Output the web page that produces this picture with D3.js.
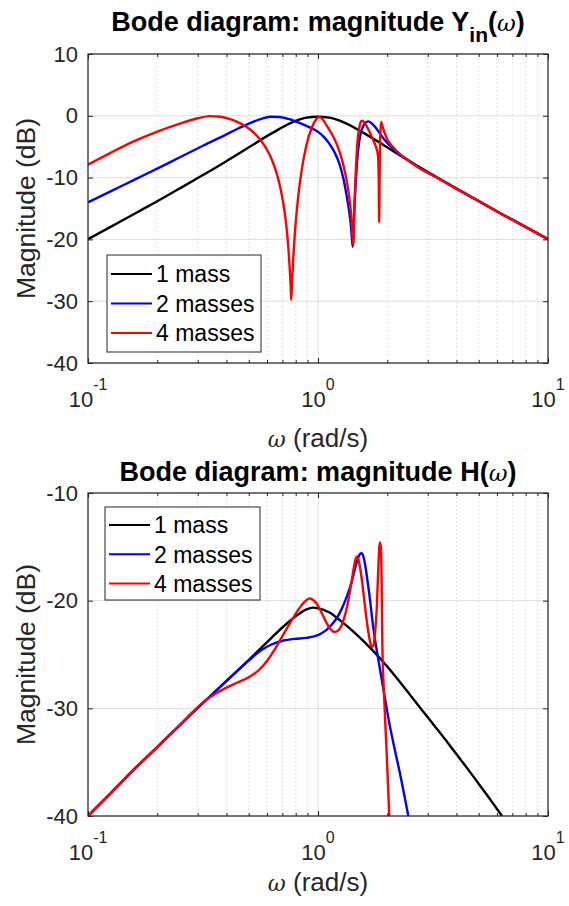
<!DOCTYPE html>
<html><head><meta charset="utf-8">
<script src="https://cdn.jsdelivr.net/npm/d3@7"></script>
<style>
body{margin:0;background:#fff}
svg{display:block}
text{font-family:"Liberation Sans",Arial,Helvetica,sans-serif}
</style>
</head><body>
<svg id="c" width="569" height="906"></svg>
<script>
// ---------- data ----------
const seriesNames = ["1 mass", "2 masses", "4 masses"];
const xTickValues = [0.1, 1, 10];
const xTickExponents = ["-1", "0", "1"];
const yinTicks = [-40, -30, -20, -10, 0, 10];
const hTicks = [-40, -30, -20, -10];

// Top panel: magnitude Y_in (dB)
const yinW1 = [0.1,0.126,0.158,0.2,0.251,0.316,0.398,0.501,0.631,0.794,0.891,1.0,1.122,1.259,1.585,1.995,2.512,3.162,3.981,5.012,6.31,7.943,10];
const yinDb1 = [-19.96,-17.93,-15.92,-13.83,-11.74,-9.59,-7.38,-5.09,-2.81,-0.85,-0.3,-0.15,-0.3,-0.85,-2.81,-5.09,-7.38,-9.59,-11.74,-13.83,-15.92,-17.93,-19.96];

const yinW2 = [0.1,0.126,0.158,0.2,0.251,0.316,0.398,0.447,0.501,0.562,0.62,0.68,0.75,0.83,0.91,1.0,1.06,1.12,1.18,1.24,1.29,1.33,1.37,1.395,1.415,1.435,1.455,1.475,1.5,1.53,1.57,1.61,1.655,1.71,1.78,1.86,1.95,2.05,2.2,2.5,2.8,3.162,3.981,5.012,6.31,7.943,10];
const yinDb2 = [-14.0,-12.2,-10.4,-8.55,-6.7,-4.85,-3.05,-2.1,-1.25,-0.55,-0.15,-0.2,-0.55,-1.15,-1.8,-2.6,-3.4,-4.5,-5.9,-7.8,-10.2,-12.8,-15.8,-18.3,-21.2,-16.0,-11.5,-8.0,-5.0,-3.0,-1.7,-1.1,-0.9,-1.2,-1.9,-2.9,-3.9,-4.8,-5.9,-7.3,-8.6,-9.65,-11.75,-13.83,-15.92,-17.93,-19.96];

const yinW4 = [0.1,0.126,0.158,0.2,0.251,0.3,0.338,0.375,0.415,0.45,0.48,0.51,0.54,0.57,0.6,0.63,0.66,0.69,0.715,0.735,0.75,0.76,0.765,0.772,0.785,0.8,0.82,0.85,0.89,0.94,0.98,1.01,1.05,1.1,1.166,1.23,1.288,1.34,1.378,1.405,1.424,1.44,1.46,1.485,1.51,1.53,1.549,1.575,1.61,1.66,1.71,1.76,1.8,1.825,1.836,1.845,1.853,1.862,1.879,1.91,1.95,2.0,2.1,2.2,2.5,2.8,3.162,3.981,5.012,6.31,7.943,10];
const yinDb4 = [-7.9,-5.95,-4.15,-2.55,-1.25,-0.4,-0.05,-0.15,-0.55,-1.05,-1.6,-2.3,-3.15,-4.2,-5.5,-7.1,-9.2,-12.1,-15.4,-19.2,-23.5,-27.3,-29.8,-26.5,-21.5,-17.3,-13.1,-8.7,-4.8,-1.9,-0.6,-0.2,-0.6,-1.8,-3.4,-5.4,-7.9,-11.0,-14.2,-17.5,-20.9,-14.8,-8.8,-4.2,-2.0,-1.1,-0.8,-0.9,-1.4,-2.3,-3.3,-4.4,-5.4,-6.6,-9.5,-17.2,-10.0,-4.0,-1.0,-1.8,-2.8,-3.8,-4.9,-5.7,-7.4,-8.6,-9.65,-11.75,-13.83,-15.92,-17.93,-19.96];

// Bottom panel: magnitude H (dB)
const hW1 = [0.1,0.126,0.158,0.2,0.251,0.316,0.355,0.398,0.447,0.501,0.562,0.631,0.708,0.794,0.891,0.95,1.0,1.122,1.259,1.413,1.585,1.778,1.995,2.239,2.512,2.818,3.162,3.548,3.981,4.467,5.012,5.623,6.31];
const hDb1 = [-40.0,-37.85,-35.7,-33.6,-31.55,-29.5,-28.5,-27.5,-26.5,-25.5,-24.45,-23.4,-22.4,-21.5,-20.8,-20.65,-20.7,-21.1,-21.9,-22.8,-23.8,-24.9,-26.1,-27.4,-28.75,-30.1,-31.45,-32.8,-34.2,-35.6,-37.05,-38.5,-40.0];

const hW2 = [0.1,0.126,0.158,0.2,0.251,0.316,0.355,0.398,0.447,0.501,0.562,0.631,0.708,0.794,0.891,1.0,1.06,1.122,1.19,1.259,1.33,1.4,1.45,1.497,1.525,1.549,1.575,1.601,1.64,1.683,1.72,1.769,1.83,1.892,1.97,2.056,2.16,2.27,2.37,2.47];
const hDb2 = [-40.0,-37.85,-35.7,-33.6,-31.55,-29.5,-28.5,-27.5,-26.5,-25.55,-24.65,-24.05,-23.7,-23.55,-23.45,-23.2,-22.9,-22.45,-21.8,-20.9,-19.7,-18.3,-17.0,-16.0,-15.65,-15.6,-15.9,-16.6,-18.1,-19.9,-21.7,-23.6,-25.5,-27.3,-29.5,-31.7,-33.9,-36.0,-38.0,-40.0];

const hW4 = [0.1,0.126,0.158,0.2,0.251,0.282,0.316,0.355,0.398,0.447,0.501,0.55,0.6,0.65,0.7,0.75,0.8,0.85,0.92,0.98,1.03,1.08,1.13,1.18,1.22,1.26,1.3,1.34,1.38,1.42,1.45,1.483,1.51,1.55,1.59,1.63,1.67,1.711,1.74,1.77,1.8,1.825,1.848,1.865,1.879,1.89,1.904,1.94,1.989,2.042];
const hDb4 = [-40.0,-37.85,-35.7,-33.6,-31.55,-30.45,-29.45,-28.7,-28.1,-27.6,-27.1,-26.5,-25.6,-24.5,-23.3,-22.2,-21.2,-20.4,-19.8,-20.2,-21.0,-21.9,-22.6,-22.9,-22.8,-22.4,-21.6,-20.5,-19.0,-17.4,-16.3,-15.9,-16.5,-18.0,-20.0,-21.9,-23.4,-24.3,-24.2,-23.0,-20.8,-17.5,-15.0,-14.6,-15.2,-18.0,-24.0,-29.0,-34.2,-40.0];

// ---------- styles ----------
const colors = ["#000000", "#0000ff", "#ff0000"];
const svg = d3.select("#c");
const axisColor = "#262626";

function drawPanel(p) {
  const x = d3.scaleLog().domain([0.1, 10]).range([p.left, p.right]);
  const y = d3.scaleLinear().domain(p.yDomain).range([p.bottom, p.top]);
  const g = svg.append("g");
  const clipId = "clip" + p.id;
  svg.append("clipPath").attr("id", clipId).append("rect")
    .attr("x", p.left).attr("y", p.top)
    .attr("width", p.right - p.left).attr("height", p.bottom - p.top);

  const allTicks = x.ticks();
  const isMajor = t => Math.abs(Math.log10(t) - Math.round(Math.log10(t))) < 1e-9;
  const minor = allTicks.filter(t => !isMajor(t));

  // minor grid
  g.append("g").selectAll("line").data(minor).join("line")
    .attr("x1", d => x(d)).attr("x2", d => x(d))
    .attr("y1", p.top).attr("y2", p.bottom)
    .attr("stroke", "#cfcfcf").attr("stroke-width", 0.8)
    .attr("stroke-dasharray", "1.5,2.5");
  // major grid
  g.append("g").selectAll("line").data(xTickValues).join("line")
    .attr("x1", d => x(d)).attr("x2", d => x(d))
    .attr("y1", p.top).attr("y2", p.bottom)
    .attr("stroke", "#dedede").attr("stroke-width", 1);
  g.append("g").selectAll("line").data(p.yTicks).join("line")
    .attr("x1", p.left).attr("x2", p.right)
    .attr("y1", d => y(d)).attr("y2", d => y(d))
    .attr("stroke", "#dedede").attr("stroke-width", 1);

  // series
  const line = d3.line().x(d => x(d[0])).y(d => y(d[1])).curve(d3.curveMonotoneX);
  p.series.forEach((s, i) => {
    const pts = s.w.map((w, j) => [w, s.db[j]]);
    g.append("path").datum(pts)
      .attr("clip-path", `url(#${clipId})`)
      .attr("fill", "none").attr("stroke", colors[i])
      .attr("stroke-width", 2.4).attr("stroke-linejoin", "round")
      .attr("d", line);
  });

  // axes (ticks inward on all sides)
  const styleAxis = sel => {
    sel.select(".domain").remove();
    sel.selectAll(".tick line").attr("stroke", axisColor);
  };
  g.append("g").attr("transform", `translate(0,${p.bottom})`)
    .call(d3.axisBottom(x).tickValues(xTickValues).tickSizeInner(-5).tickSizeOuter(0).tickFormat(""))
    .call(styleAxis);
  g.append("g").attr("transform", `translate(0,${p.bottom})`)
    .call(d3.axisBottom(x).tickValues(minor).tickSizeInner(-3).tickSizeOuter(0).tickFormat(""))
    .call(styleAxis);
  g.append("g").attr("transform", `translate(0,${p.top})`)
    .call(d3.axisTop(x).tickValues(xTickValues).tickSizeInner(-5).tickSizeOuter(0).tickFormat(""))
    .call(styleAxis);
  g.append("g").attr("transform", `translate(0,${p.top})`)
    .call(d3.axisTop(x).tickValues(minor).tickSizeInner(-3).tickSizeOuter(0).tickFormat(""))
    .call(styleAxis);
  const yl = g.append("g").attr("transform", `translate(${p.left},0)`)
    .call(d3.axisLeft(y).tickValues(p.yTicks).tickSizeInner(-5).tickSizeOuter(0).tickPadding(10).tickFormat(d => String(d)))
    .call(styleAxis);
  yl.selectAll(".tick text").attr("font-size", 22).attr("fill", axisColor)
    .attr("font-family", '"Liberation Sans",Arial,sans-serif');
  g.append("g").attr("transform", `translate(${p.right},0)`)
    .call(d3.axisRight(y).tickValues(p.yTicks).tickSizeInner(-5).tickSizeOuter(0).tickFormat(""))
    .call(styleAxis);

  // x tick labels 10^n
  const xl = g.append("g").selectAll("text").data(xTickValues).join("text")
    .attr("x", d => x(d)).attr("y", p.bottom + 44)
    .attr("text-anchor", "middle").attr("fill", axisColor).attr("font-size", 22);
  xl.append("tspan").text("10");
  xl.append("tspan").attr("dy", -17).attr("font-size", 16).text((d, i) => xTickExponents[i]);

  // box
  g.append("rect").attr("x", p.left).attr("y", p.top)
    .attr("width", p.right - p.left).attr("height", p.bottom - p.top)
    .attr("fill", "none").attr("stroke", axisColor).attr("stroke-width", 1.2);

  // axis labels
  const xlab = g.append("text").attr("x", (p.left + p.right) / 2).attr("y", p.xLabelY)
    .attr("text-anchor", "middle").attr("font-size", 26).attr("fill", axisColor);
  xlab.append("tspan").attr("font-style", "italic").attr("font-family", '"DejaVu Serif",serif').attr("font-size", 22).text("ω");
  xlab.append("tspan").text(" (rad/s)");
  g.append("text")
    .attr("transform", `translate(35,${(p.top + p.bottom) / 2}) rotate(-90)`)
    .attr("text-anchor", "middle").attr("font-size", 26.5).attr("fill", axisColor)
    .text("Magnitude (dB)");

  // title
  const t = g.append("text").attr("x", (p.left + p.right) / 2).attr("y", p.titleY)
    .attr("text-anchor", "middle").attr("font-size", 27).attr("font-weight", "bold").attr("fill", "#000");
  t.append("tspan").text(p.titleMain);
  if (p.titleSub) {
    t.append("tspan").attr("dy", 11).attr("font-size", 21).text(p.titleSub);
    t.append("tspan").attr("dy", -11).text("(");
  } else {
    t.append("tspan").text("(");
  }
  t.append("tspan").attr("font-weight", "normal").attr("font-style", "italic").attr("font-family", '"DejaVu Serif",serif').attr("font-size", 23).text("ω");
  t.append("tspan").text(")");

  // legend
  const L = p.legend;
  const lg = g.append("g");
  lg.append("rect").attr("x", L.x).attr("y", L.y).attr("width", L.w).attr("height", L.h)
    .attr("fill", "#fff").attr("stroke", axisColor).attr("stroke-width", 1);
  seriesNames.forEach((name, i) => {
    const cy = L.y + L.row0 + i * L.dy;
    lg.append("line").attr("x1", L.x + 4).attr("x2", L.x + 45).attr("y1", cy).attr("y2", cy)
      .attr("stroke", colors[i]).attr("stroke-width", 2);
    lg.append("text").attr("x", L.x + 49).attr("y", cy).attr("dy", "0.36em")
      .attr("font-size", 23).attr("fill", "#000").text(name);
  });
}

drawPanel({
  id: "top", left: 88, right: 548, top: 54, bottom: 363,
  yDomain: [-40, 10], yTicks: yinTicks,
  series: [{w: yinW1, db: yinDb1}, {w: yinW2, db: yinDb2}, {w: yinW4, db: yinDb4}],
  titleMain: "Bode diagram: magnitude Y", titleSub: "in", titleY: 31,
  xLabelY: 447,
  legend: {x: 107, y: 255, w: 154, h: 97, row0: 19, dy: 29.5}
});
drawPanel({
  id: "bot", left: 88, right: 548, top: 493, bottom: 816,
  yDomain: [-40, -10], yTicks: hTicks,
  series: [{w: hW1, db: hDb1}, {w: hW2, db: hDb2}, {w: hW4, db: hDb4}],
  titleMain: "Bode diagram: magnitude H", titleSub: null, titleY: 481,
  xLabelY: 891,
  legend: {x: 105, y: 507, w: 155, h: 93, row0: 18, dy: 29.3}
});
</script>
</body></html>
